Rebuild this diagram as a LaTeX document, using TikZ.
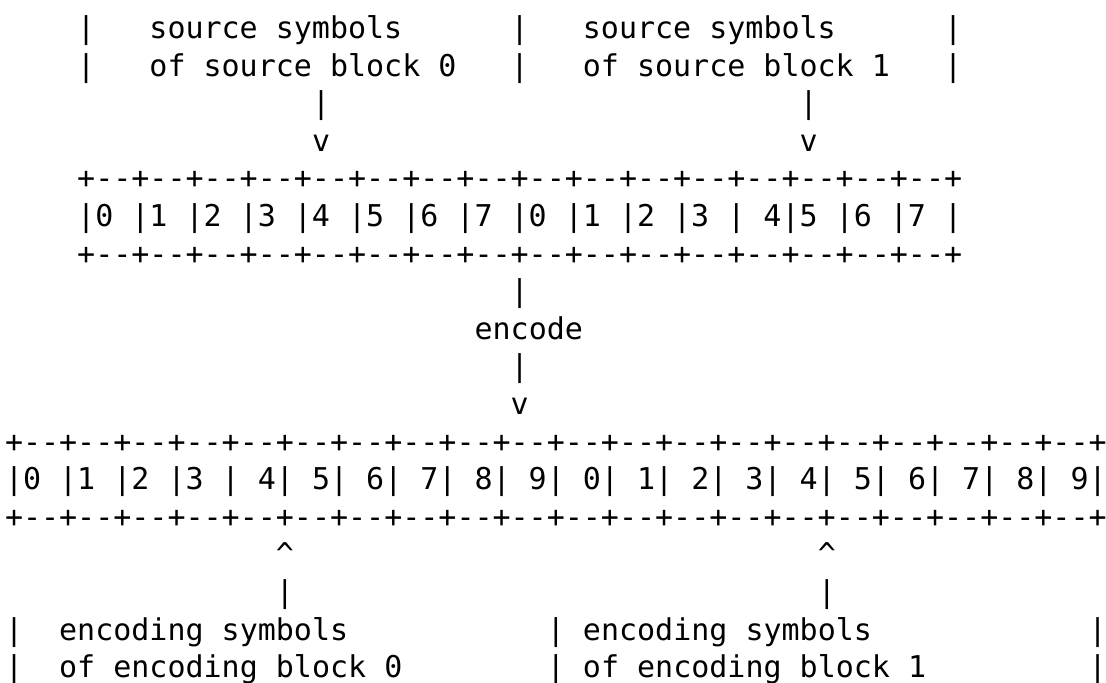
\documentclass[tikz,border=0pt]{standalone}
\usepackage{fontspec}
\setmonofont{DejaVu Sans Mono}

\tikzset{
    ascii/.style={anchor=base west, inner sep=0pt, outer sep=0pt,
        font=\ttfamily\fontsize{15}{18.8}\selectfont}
}

\begin{document}
\begin{tikzpicture}[x=0.5pt, y=-0.5pt]
        % page size of the reference
        \clip (0,0) rectangle (1106,683);

        % source blocks
        \node[ascii] (srcHeadA) at (77.2,38.5) {|~~~source symbols~~~~~~|~~~source symbols~~~~~~|};
        \node[ascii] (srcHeadB) at (77.2,76.1) {|~~~of source block 0~~~|~~~of source block 1~~~|};
        \node[ascii] (srcBar) at (312.0,113.7) {|~~~~~~~~~~~~~~~~~~~~~~~~~~|};
        \node[ascii] (srcTip) at (312.0,151.3) {v~~~~~~~~~~~~~~~~~~~~~~~~~~v};

        % source symbols
        \node[ascii] (srcRuleTop) at (77.2,188.9) {+--+--+--+--+--+--+--+--+--+--+--+--+--+--+--+--+};
        \node[ascii] (srcCells) at (77.2,226.5) {|0~|1~|2~|3~|4~|5~|6~|7~|0~|1~|2~|3~|~4|5~|6~|7~|};
        \node[ascii] (srcRuleBot) at (77.2,264.1) {+--+--+--+--+--+--+--+--+--+--+--+--+--+--+--+--+};

        % encode step
        \node[ascii] (encBarA) at (510.7,301.7) {|};
        \node[ascii] (encLabel) at (474.6,339.3) {encode};
        \node[ascii] (encBarB) at (510.7,376.9) {|};
        \node[ascii] (encTip) at (510.7,414.5) {v};

        % encoding symbols
        \node[ascii] (outRuleTop) at (5,452.1) {+--+--+--+--+--+--+--+--+--+--+--+--+--+--+--+--+--+--+--+--+};
        \node[ascii] (outCells) at (5,489.7) {|0~|1~|2~|3~|~4|~5|~6|~7|~8|~9|~0|~1|~2|~3|~4|~5|~6|~7|~8|~9|};
        \node[ascii] (outRuleBot) at (5,527.3) {+--+--+--+--+--+--+--+--+--+--+--+--+--+--+--+--+--+--+--+--+};

        % encoding blocks
        \node[ascii] (outTip) at (275.9,564.9) {\textasciicircum~~~~~~~~~~~~~~~~~~~~~~~~~~~~~\textasciicircum};
        \node[ascii] (outBar) at (275.9,602.5) {|~~~~~~~~~~~~~~~~~~~~~~~~~~~~~|};
        \node[ascii] (outHeadA) at (5,640.1) {|~~encoding symbols~~~~~~~~~~~|~encoding symbols~~~~~~~~~~~~|};
        \node[ascii] (outHeadB) at (5,677.7) {|~~of encoding block 0~~~~~~~~|~of encoding block 1~~~~~~~~~|};
    \end{tikzpicture}
\end{document}
